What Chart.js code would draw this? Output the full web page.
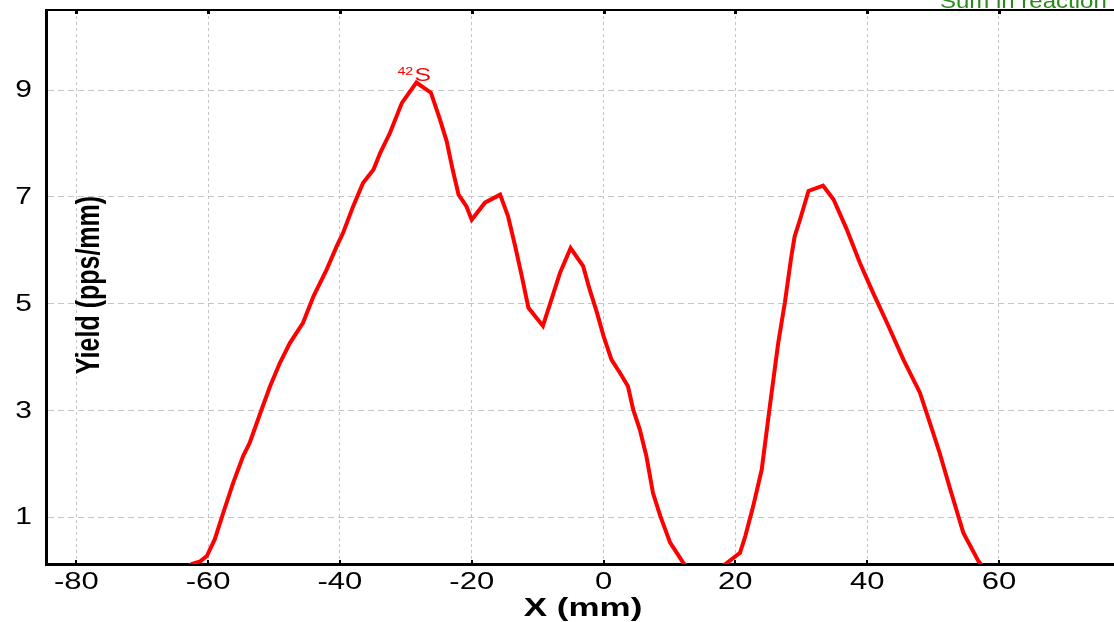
<!DOCTYPE html>
<html>
<head>
<meta charset="utf-8">
<title>Yield profile</title>
<script src="https://cdn.jsdelivr.net/npm/chart.js@4.4.1/dist/chart.umd.min.js"></script>
<style>
  html, body { margin: 0; padding: 0; background: #ffffff; }
  #wrap { width: 1114px; height: 622px; }
  canvas { display: block; }
</style>
</head>
<body>
<div id="wrap"><canvas id="chart" width="1114" height="622"></canvas></div>
<script>
// Beam position along X (mm) and measured yield (pps/mm)
const xPos = [
  -64.0, -62.5, -61.2, -60.2, -59.0, -57.7, -56.2, -54.7, -53.7, -51.9,
  -50.6, -49.1, -47.6, -45.6, -44.0, -42.0, -40.5, -39.5, -38.0, -36.5,
  -34.9, -33.9, -32.4, -30.6, -28.4, -26.2, -24.9, -23.8, -22.9, -22.0,
  -20.8, -20.0, -18.0, -15.7, -14.5, -13.4, -12.4, -11.4, -9.2, -7.9,
  -6.6, -5.0, -3.1, -2.1, -1.0, 0.0, 1.2, 2.5, 3.7, 4.5,
  5.5, 6.5, 7.5, 8.6, 10.1, 12.1, 13.5, 17.0, 18.4, 20.7,
  21.5, 22.7, 24.0, 25.3, 26.5, 27.5, 28.5, 29.0, 29.8, 31.1,
  33.3, 34.9, 36.9, 38.9, 40.9, 43.0, 45.5, 48.0, 49.5, 51.0,
  52.6, 54.6, 56.9, 58.0
];
const yieldVals = [
  0, 0.12, 0.17, 0.27, 0.58, 1.08, 1.64, 2.14, 2.39, 3.01,
  3.45, 3.89, 4.26, 4.64, 5.14, 5.64, 6.07, 6.33, 6.82, 7.26,
  7.51, 7.82, 8.20, 8.76, 9.14, 8.95, 8.48, 8.04, 7.51, 7.04,
  6.82, 6.57, 6.89, 7.04, 6.64, 6.07, 5.51, 4.92, 4.58, 5.08,
  5.58, 6.04, 5.70, 5.26, 4.83, 4.39, 3.95, 3.70, 3.45, 3.01,
  2.64, 2.14, 1.45, 1.02, 0.52, 0.14, 0, 0, 0.11, 0.33,
  0.64, 1.20, 1.89, 3.14, 4.26, 5.01, 5.89, 6.26, 6.57, 7.11,
  7.21, 6.95, 6.39, 5.76, 5.20, 4.64, 3.95, 3.33, 2.77, 2.20,
  1.52, 0.70, 0.17, 0
];

// Axis ticks and limits
const xTicks = [-80, -60, -40, -20, 0, 20, 40, 60];
const yTicks = [1, 3, 5, 7, 9];
const xRange = [-84.6, 77.45];
const yRange = [0.12, 10.5];

// Texts
const isotopeMass = '42';
const isotopeSymbol = 'S';
const xTitle = 'X (mm)';
const yTitle = 'Yield (pps/mm)';
const legendText = 'Sum in reaction';

const FONT = '"Liberation Sans", Arial, sans-serif';
const STRETCH = 1.3; // glyphs are drawn a little wider than tall

function wideText(ctx, text, x, y, align, sx) {
  ctx.save();
  ctx.translate(x, y);
  ctx.scale(sx, 1);
  ctx.textAlign = align;
  ctx.fillText(text, 0, 0);
  ctx.restore();
}

const decorations = {
  id: 'decorations',
  afterDraw(chart) {
    const ctx = chart.ctx;
    const area = chart.chartArea;
    const xs = chart.scales.x;
    const ys = chart.scales.y;

    ctx.save();
    // top frame line
    ctx.strokeStyle = '#000000';
    ctx.lineWidth = 2;
    ctx.beginPath();
    ctx.moveTo(area.left - 1, area.top);
    ctx.lineTo(area.right, area.top);
    ctx.stroke();

    // small tick marks on top and bottom frame
    ctx.fillStyle = '#000000';
    xTicks.forEach(v => {
      const px = Math.round(xs.getPixelForValue(v));
      ctx.fillRect(px - 1, area.top, 3, 4);
      ctx.fillRect(px - 1, area.bottom - 4, 2, 4);
    });

    // x tick labels
    ctx.fillStyle = '#000000';
    ctx.font = '23px ' + FONT;
    ctx.textBaseline = 'alphabetic';
    xTicks.forEach(v => {
      wideText(ctx, String(v), xs.getPixelForValue(v), 589, 'center', 1.35);
    });

    // y tick labels
    ctx.textBaseline = 'middle';
    yTicks.forEach(v => {
      wideText(ctx, String(v), 32, ys.getPixelForValue(v) + 1, 'right', STRETCH);
    });

    // axis titles
    ctx.font = 'bold 25px ' + FONT;
    ctx.textBaseline = 'alphabetic';
    wideText(ctx, xTitle, (area.left + area.right) / 2 + 3, 616, 'center', 1.4);

    ctx.save();
    ctx.translate(90, 285);
    ctx.scale(STRETCH, 1);
    ctx.rotate(-Math.PI / 2);
    ctx.textAlign = 'center';
    ctx.textBaseline = 'middle';
    ctx.fillText(yTitle, 0, 0);
    ctx.restore();

    // isotope label above the highest point
    let peak = 0;
    yieldVals.forEach((v, i) => { if (v > yieldVals[peak]) peak = i; });
    const px = xs.getPixelForValue(xPos[peak]);
    const py = ys.getPixelForValue(yieldVals[peak]);
    ctx.fillStyle = '#ff0000';
    ctx.font = '11px ' + FONT;
    wideText(ctx, isotopeMass, px - 19, py - 8, 'left', STRETCH);
    ctx.font = '19px ' + FONT;
    wideText(ctx, isotopeSymbol, px - 2, py - 1.5, 'left', STRETCH);

    // legend entry, partly outside the top edge
    ctx.fillStyle = '#2a8a1c';
    ctx.font = '20px ' + FONT;
    wideText(ctx, legendText, 940, 8, 'left', 1.2);
    ctx.restore();
  }
};

const points = xPos.map((x, i) => ({ x: x, y: yieldVals[i] }));

new Chart(document.getElementById('chart'), {
  type: 'line',
  data: {
    datasets: [{
      data: points,
      borderColor: '#ff0000',
      borderWidth: 4,
      pointRadius: 0,
      tension: 0,
      fill: false,
      clip: 0
    }]
  },
  options: {
    responsive: false,
    animation: false,
    devicePixelRatio: 1,
    layout: { padding: { left: 46, top: 10, right: 0, bottom: 58 } },
    plugins: { legend: { display: false }, tooltip: { enabled: false } },
    scales: {
      x: {
        type: 'linear',
        min: xRange[0],
        max: xRange[1],
        afterBuildTicks: s => { s.ticks = xTicks.map(v => ({ value: v })); },
        ticks: { display: false },
        grid: { color: '#c4c4c4', lineWidth: 1, drawTicks: false },
        border: { display: true, color: '#000000', width: 3, dash: [3, 3] }
      },
      y: {
        type: 'linear',
        min: yRange[0],
        max: yRange[1],
        afterBuildTicks: s => { s.ticks = yTicks.map(v => ({ value: v })); },
        ticks: { display: false },
        grid: { color: '#c4c4c4', lineWidth: 1, drawTicks: false },
        border: { display: true, color: '#000000', width: 3, dash: [6, 4] }
      }
    }
  },
  plugins: [decorations]
});
</script>
</body>
</html>
